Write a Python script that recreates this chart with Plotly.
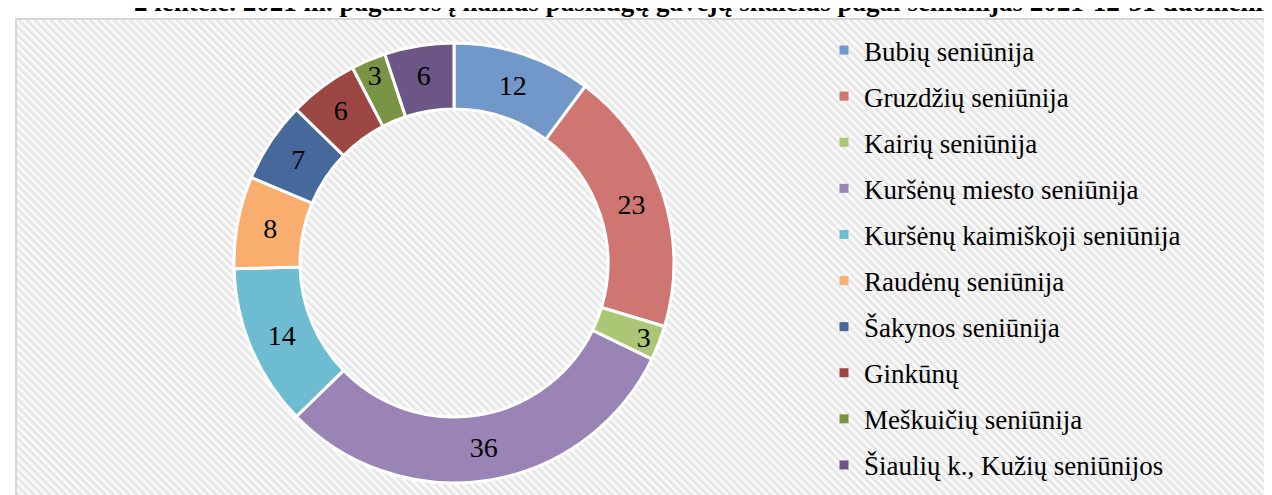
import base64
import plotly.graph_objects as go

# ---- data ----
labels = [
    "Bubių seniūnija",
    "Gruzdžių seniūnija",
    "Kairių seniūnija",
    "Kuršėnų miesto seniūnija",
    "Kuršėnų kaimiškoji seniūnija",
    "Raudėnų seniūnija",
    "Šakynos seniūnija",
    "Ginkūnų",
    "Meškuičių seniūnija",
    "Šiaulių k., Kužių seniūnijos",
]
values = [12, 23, 3, 36, 14, 8, 7, 6, 3, 6]
colors = [
    "#7198C9", "#CF7673", "#ABC674", "#9A84B6", "#6EBCD2",
    "#F9AD6E", "#45699A", "#9C4744", "#7A9446", "#6C5686",
]
title_text = ("2 lentelė. 2021 m. pagalbos į namus paslaugų gavėjų skaičius "
              "pagal seniūnijas 2021-12-31 duomenimis")

W, H = 1272, 495
FONT = "Liberation Serif, Times New Roman, serif"

# striped background (svg pattern)
bw, bh = W - 8, H - 11
svg = (
    f'<svg xmlns="http://www.w3.org/2000/svg" width="{bw}" height="{bh}">'
    '<defs><pattern id="p" width="5.6" height="5.6" patternUnits="userSpaceOnUse" '
    'patternTransform="rotate(-45)">'
    '<rect width="5.6" height="5.6" fill="#f9f9f9"/>'
    '<rect width="2.6" height="5.6" fill="#e6e6e6"/></pattern></defs>'
    '<rect width="100%" height="100%" fill="url(#p)"/></svg>'
)
src = "data:image/svg+xml;base64," + base64.b64encode(svg.encode()).decode()

fig = go.Figure()

cx, cy, r = 446, 255, 220
fig.add_trace(go.Pie(
    labels=labels,
    values=values,
    sort=False,
    direction="clockwise",
    rotation=0,
    hole=0.70,
    marker=dict(colors=colors, line=dict(color="white", width=3)),
    textinfo="value",
    textposition="inside",
    insidetextorientation="horizontal",
    textfont=dict(family=FONT, size=28, color="black"),
    showlegend=False,
    domain=dict(x=[(cx - r) / W, (cx + r) / W],
                y=[(H - cy - r) / H, (H - cy + r) / H]),
))

for lab, col in zip(labels, colors):
    fig.add_trace(go.Scatter(
        x=[None], y=[None], mode="markers", name=lab, legendgroup=lab,
        marker=dict(symbol="square", size=9, color=col),
        hoverinfo="skip",
    ))

fig.update_layout(
    width=W, height=H,
    margin=dict(l=0, r=0, t=0, b=0),
    paper_bgcolor="white",
    plot_bgcolor="rgba(0,0,0,0)",
    xaxis=dict(visible=False),
    yaxis=dict(visible=False),
    uniformtext=dict(minsize=28, mode="show"),
    showlegend=True,
    legend=dict(
        x=816 / W, xanchor="left",
        y=1 - 18 / H, yanchor="top",
        font=dict(family=FONT, size=27, color="black"),
        bgcolor="rgba(0,0,0,0)",
        tracegroupgap=8,
        itemwidth=30,
        itemclick=False, itemdoubleclick=False,
    ),
    images=[dict(
        source=src, xref="paper", yref="paper",
        x=8 / W, y=1 - 11 / H, sizex=bw / W, sizey=bh / H,
        xanchor="left", yanchor="top", sizing="stretch", layer="below",
    )],
    shapes=[dict(
        type="rect", xref="paper", yref="paper",
        x0=8 / W, x1=1.02, y0=-0.02, y1=1 - 11 / H,
        line=dict(color="#d6d6d6", width=2), layer="above",
    )],
    annotations=[dict(
        text=f"<b>{title_text}</b>", xref="paper", yref="paper",
        x=124 / W, y=1, xanchor="left", yanchor="bottom", yshift=-11,
        showarrow=False, font=dict(family=FONT, size=27, color="black"),
    )],
)

fig.write_html("out.html")
